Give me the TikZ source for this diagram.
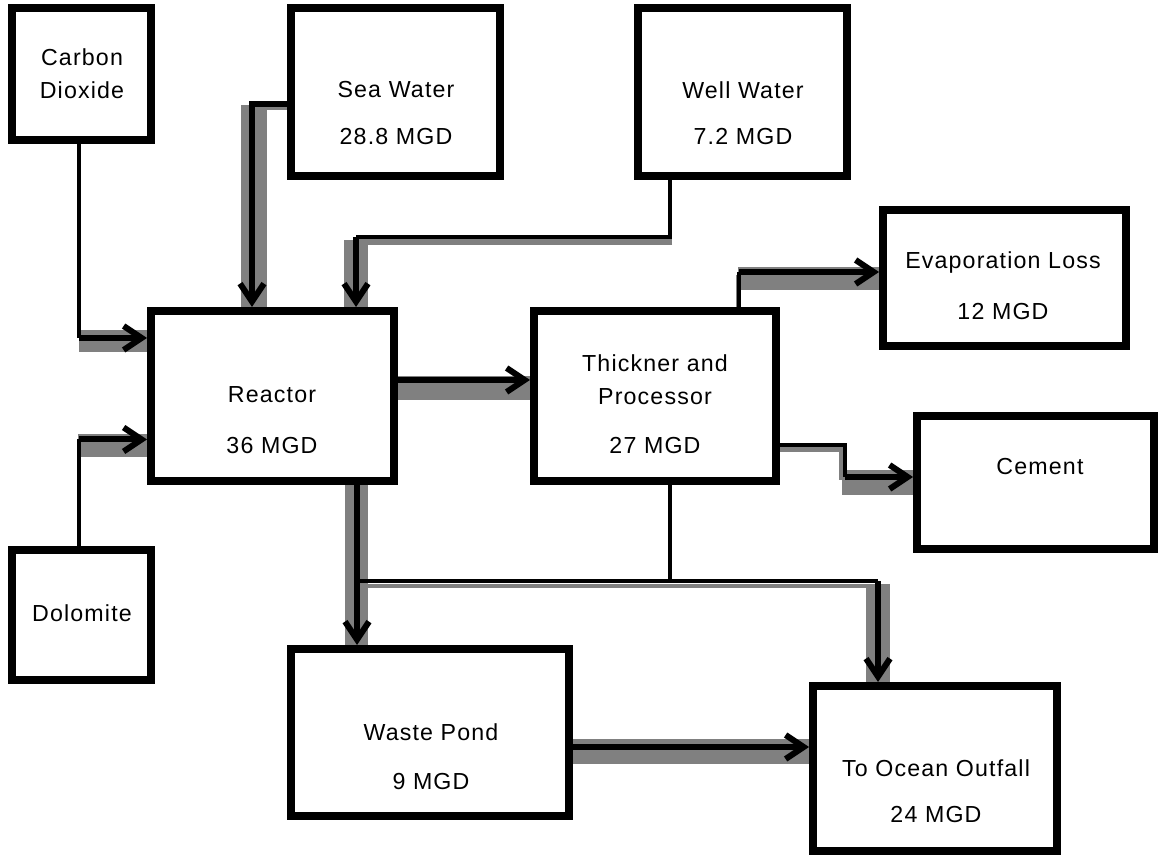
\documentclass[tikz,border=0pt]{standalone}
\usepackage{fontspec}
\setmainfont{Liberation Sans}[LetterSpace=5]
\usetikzlibrary{arrows.meta,calc,backgrounds}
\definecolor{pipegray}{RGB}{128,128,128}
\tikzset{
  box/.style={draw, line width=4pt, rectangle, inner sep=0pt},
  lbl/.style={font=\fontsize{11.6}{16.5}\selectfont, inner sep=0pt, align=center},
  band/.style={draw=pipegray, line width=#1},
  feed/.style={draw=black, line width=1.75pt},
  flow/.style={draw=black, line width=3pt, -{Straight Barb[length=9pt,width=12pt]}}
}

\begin{document}
\begin{tikzpicture}[x=0.5pt,y=-0.5pt]
  \useasboundingbox (0,0) rectangle (1158,855);
  % unit boxes
  \node[box, minimum width=69.5pt, minimum height=66pt] (co2) at (81.5,74) {};
  \node[box, minimum width=104.5pt, minimum height=84pt] (sea) at (395.5,92) {};
  \node[box, minimum width=104.5pt, minimum height=84pt] (well) at (742.5,92) {};
  \node[box, minimum width=121.5pt, minimum height=85pt] (reactor) at (272.5,396) {};
  \node[box, minimum width=121pt, minimum height=85pt] (thick) at (655,396) {};
  \node[box, minimum width=121.5pt, minimum height=68pt] (evap) at (1004.5,278) {};
  \node[box, minimum width=118.5pt, minimum height=66.5pt] (cement) at (1035.5,482.5) {};
  \node[box, minimum width=69.5pt, minimum height=65pt] (dolo) at (81.5,615) {};
  \node[box, minimum width=139pt, minimum height=83.5pt] (waste) at (430,732.5) {};
  \node[box, minimum width=122pt, minimum height=82.5pt] (ocean) at (935,768.5) {};
  % labels
  \node[lbl] (co2txt) at (82,73.5) {Carbon\\Dioxide};
  \node[lbl] (seatxt) at (396,90) {Sea Water};
  \node[lbl] (seaflow) at (396,137) {28.8 MGD};
  \node[lbl] (welltxt) at (743,90) {Well Water};
  \node[lbl] (wellflow) at (743,137) {7.2 MGD};
  \node[lbl] (reactortxt) at (272,395) {Reactor};
  \node[lbl] (reactorflow) at (272,446) {36 MGD};
  \node[lbl] (thicktxt) at (655,379.5) {Thickner and\\Processor};
  \node[lbl] (thickflow) at (655,446) {27 MGD};
  \node[lbl] (evaptxt) at (1003,263) {Evaporation Loss};
  \node[lbl] (evapflow) at (1003,312) {12 MGD};
  \node[lbl] (cementtxt) at (1040,467) {Cement};
  \node[lbl] (dolotxt) at (82,613) {Dolomite};
  \node[lbl] (wastetxt) at (431,732) {Waste Pond};
  \node[lbl] (wasteflow) at (431,782) {9 MGD};
  \node[lbl] (oceantxt) at (936,768) {To Ocean Outfall};
  \node[lbl] (oceanflow) at (936,815) {24 MGD};
  % bends of the pipes
  \coordinate (co2bend) at (79,338);
  \coordinate (dolobend) at (79,439.5);
  \coordinate (seabend) at (252,104);
  \coordinate (wellbend) at (670,237);
  \coordinate (wellturn) at (356,237);
  \coordinate (rtlevel) at (0,380);
  \coordinate (evapbend) at (739,272);
  \coordinate (cemturn) at (845,445);
  \coordinate (cembend) at (845,477);
  \coordinate (split) at (357,581);
  \coordinate (tpjoin) at (670,581);
  \coordinate (ocbend) at (878,581);
  \coordinate (wolevel) at (0,747);
  % grey pipe shading
  \begin{scope}[on background layer]
    \draw[band=11pt] ($(co2bend)+(0,3)$) -- ($(co2bend -| reactor.west)+(0,3)$);
    \draw[band=11.5pt] ($(dolobend)+(-1,6)$) -- ($(dolobend -| reactor.west)+(0,6)$);
    \draw[band=1.5pt] ($(seabend -| sea.west)+(0,4.5)$) -- ($(seabend)+(0,4.5)$);
    \draw[band=13pt] ($(seabend)+(2,1)$) -- ($(seabend |- reactor.north)+(2,4)$);
    \draw[band=3pt] ($(wellbend)+(2,5)$) -- ($(wellturn)+(0,5)$);
    \draw[band=12pt] ($(wellturn)+(0,3)$) -- ($(wellturn |- reactor.north)+(0,4)$);
    \draw[band=12pt] ($(reactor.east |- rtlevel)+(-4,8)$) -- ($(thick.west |- rtlevel)+(4,8)$);
    \draw[band=1.5pt] ($(evapbend |- thick.north)+(-1.5,0)$) -- ($(evapbend)+(-1.5,3)$);
    \draw[band=11.5pt] ($(evapbend)+(-1,6.5)$) -- ($(evapbend -| evap.west)+(3,6.5)$);
    \draw[band=2.5pt] ($(cemturn -| thick.east)+(0,4.5)$) -- ($(cemturn)+(-2,4.5)$);
    \draw[band=2pt] ($(cemturn)+(-4,4)$) -- ($(cembend)+(-4,3)$);
    \draw[band=12.5pt] ($(cembend)+(-3,5.5)$) -- ($(cembend -| cement.west)+(2,5.5)$);
    \draw[band=11.5pt] ($(split |- reactor.south)+(-0.5,-4)$) -- ($(split |- waste.north)+(-0.5,4)$);
    \draw[band=2pt] ($(split)+(0,5)$) -- ($(ocbend)+(-12,5)$);
    \draw[band=12pt] ($(ocbend)+(0,3)$) -- ($(ocbend |- ocean.north)+(0,4)$);
    \draw[band=12.5pt] ($(waste.east |- wolevel)+(-8,4.5)$) -- ($(ocean.west |- wolevel)+(2,4.5)$);
  \end{scope}
  % feeds into the reactor
  \draw[feed] (co2bend |- co2.south) -- (co2bend);
  \draw[flow] (co2bend) -- (co2bend -| reactor.west);
  \draw[feed] (dolobend |- dolo.north) -- (dolobend);
  \draw[flow] (dolobend) -- (dolobend -| reactor.west);
  \draw[flow] (seabend -| sea.west) -- (seabend) -- (seabend |- reactor.north);
  \draw[feed] (wellbend |- well.south) -- (wellbend) -- (wellturn);
  \draw[flow] (wellturn) -- (wellturn |- reactor.north);
  % reactor to thickener
  \draw[flow] (reactor.east |- rtlevel) -- (thick.west |- rtlevel);
  % thickener products
  \draw[feed] (evapbend |- thick.north) -- (evapbend);
  \draw[flow] (evapbend) -- (evapbend -| evap.west);
  \draw[feed] (cemturn -| thick.east) -- (cemturn) -- (cembend);
  \draw[flow] (cembend) -- (cembend -| cement.west);
  % waste streams
  \draw[flow] (split |- reactor.south) -- (split |- waste.north);
  \draw[feed] (split) -- (ocbend);
  \draw[feed] (tpjoin |- thick.south) -- (tpjoin);
  \draw[flow] (ocbend) -- (ocbend |- ocean.north);
  \draw[flow] (waste.east |- wolevel) -- (ocean.west |- wolevel);
\end{tikzpicture}
\end{document}
